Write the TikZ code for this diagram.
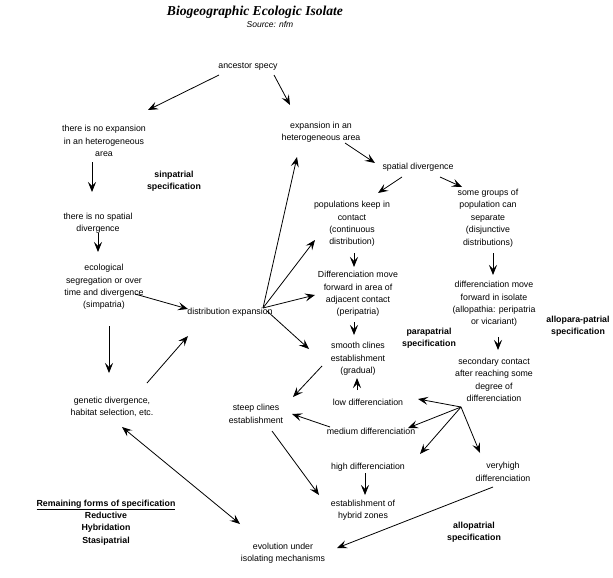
\documentclass[tikz,border=0pt]{standalone}
\usepackage{fontspec}
\setmainfont{Liberation Sans}
\newfontfamily\titlefont{Liberation Serif}
\usetikzlibrary{arrows.meta}
\begin{document}
\begin{tikzpicture}[x=1pt,y=-1pt,
  txt/.style={font=\fontsize{8.8}{12.4}\selectfont, align=center, inner sep=0pt},
  boldtxt/.style={font=\fontsize{8.8}{12.4}\selectfont\bfseries, align=center, inner sep=0pt},
  arr/.style={-{Stealth[length=10pt,width=8pt,inset=4pt]}, line width=0.8pt},
  darr/.style={{Stealth[length=10pt,width=8pt,inset=4pt]}-{Stealth[length=10pt,width=8pt,inset=4pt]}, line width=0.8pt}]
\useasboundingbox (0,0) rectangle (613,578);
% titles
\node[inner sep=0pt, font=\titlefont\bfseries\itshape\fontsize{13.6}{15}\selectfont] (title) at (255,12) {Biogeographic Ecologic Isolate};
\node[inner sep=0pt, font=\itshape\fontsize{8.5}{10}\selectfont] (source) at (270,24) {Source: nfm};
% nodes
\node[txt] (ancestor) at (248,67) {ancestor specy};
\node[txt] (noexp) at (104,141) {there is no expansion\\in an heterogeneous\\area};
\node[boldtxt] (simpatrial) at (174,181) {sinpatrial\\specification};
\node[txt] (nospatial) at (98,223) {there is no spatial\\divergence};
\node[txt] (ecological) at (104,287) {ecological\\segregation or over\\time and divergence\\(simpatria)};
\node[txt] (distexp) at (230,312) {distribution expansion};
\node[txt] (genetic) at (112,407) {genetic divergence,\\habitat selection, etc.};
\node[boldtxt] (remaining) at (106,522.5) {\underline{Remaining forms of specification}\\Reductive\\Hybridation\\Stasipatrial};
\node[txt] (expansionhet) at (321,132) {expansion in an\\heterogeneous area};
\node[txt] (spatial) at (418,167) {spatial divergence};
\node[txt] (popkeep) at (352,224) {populations keep in\\contact\\(continuous\\distribution)};
\node[txt] (somegroups) at (488,218) {some groups of\\population can\\separate\\(disjunctive\\distributions)};
\node[txt] (diffmove) at (358,294) {Differenciation move\\forward in area of\\adjacent contact\\(peripatria)};
\node[txt] (smooth) at (358,359) {smooth clines\\establishment\\(gradual)};
\node[boldtxt] (parapatrial) at (429,338) {parapatrial\\specification};
\node[txt] (diffisolate) at (494,304) {differenciation move\\forward in isolate\\(allopathia: peripatria\\or vicariant)};
\node[boldtxt] (allopara) at (578,326) {allopara-patrial\\specification};
\node[txt] (secondary) at (494,380) {secondary contact\\after reaching some\\degree of\\differenciation};
\node[txt] (low) at (368,402) {low differenciation};
\node[txt] (steep) at (256,414) {steep clines\\establishment};
\node[txt] (medium) at (371,431) {medium differenciation};
\node[txt] (high) at (368,467) {high differenciation};
\node[txt] (veryhigh) at (503,472) {veryhigh\\differenciation};
\node[txt] (hybrid) at (363,510) {establishment of\\hybrid zones};
\node[boldtxt] (allopatrial) at (474,532) {allopatrial\\specification};
\node[txt] (evolution) at (283,553) {evolution under\\isolating mechanisms};
% connectors
\draw[arr] ([shift={(-29,8)}]ancestor.center) -- ([shift={(44,-31)}]noexp.center);
\draw[arr] ([shift={(26,8)}]ancestor.center) -- ([shift={(-31,-27)}]expansionhet.center);
\draw[arr] ([shift={(-12,21)}]noexp.center) -- ([shift={(-6,-31)}]nospatial.center);
\draw[arr] ([shift={(0,10)}]nospatial.center) -- ([shift={(-6,-35)}]ecological.center);
\draw[arr] ([shift={(31,7)}]ecological.center) -- ([shift={(-42,-3)}]distexp.center);
\draw[arr] ([shift={(5,39)}]ecological.center) -- ([shift={(-3,-34)}]genetic.center);
\draw[arr] ([shift={(35,-24)}]genetic.center) -- ([shift={(-42,24)}]distexp.center);
\draw[arr] ([shift={(33,-4)}]distexp.center) -- ([shift={(-24,25)}]expansionhet.center);
\draw[arr] ([shift={(33,-4)}]distexp.center) -- ([shift={(-37,16)}]popkeep.center);
\draw[arr] ([shift={(33,-4)}]distexp.center) -- ([shift={(-43,1)}]diffmove.center);
\draw[arr] ([shift={(37,-1)}]distexp.center) -- ([shift={(-49,-10)}]smooth.center);
\draw[arr] ([shift={(24,11)}]expansionhet.center) -- ([shift={(-43,-4)}]spatial.center);
\draw[arr] ([shift={(-16,10)}]spatial.center) -- ([shift={(26,-31)}]popkeep.center);
\draw[arr] ([shift={(22,10)}]spatial.center) -- ([shift={(-26,-31)}]somegroups.center);
\draw[arr] ([shift={(2,29)}]popkeep.center) -- ([shift={(-4,-27)}]diffmove.center);
\draw[arr] ([shift={(5,35)}]somegroups.center) -- ([shift={(-1,-29)}]diffisolate.center);
\draw[arr] ([shift={(-4,28)}]diffmove.center) -- ([shift={(-4,-24)}]smooth.center);
\draw[arr] ([shift={(4,33)}]diffisolate.center) -- ([shift={(4,-30)}]secondary.center);
\draw[arr] ([shift={(-11,-12)}]low.center) -- ([shift={(-1,19)}]smooth.center);
\draw[arr] ([shift={(-36,7)}]smooth.center) -- ([shift={(37,-17)}]steep.center);
\draw[arr] ([shift={(-41,-4)}]medium.center) -- ([shift={(36,0)}]steep.center);
\draw[arr] ([shift={(-33,27)}]secondary.center) -- ([shift={(50,-3)}]low.center);
\draw[arr] ([shift={(-33,27)}]secondary.center) -- ([shift={(37,-3)}]medium.center);
\draw[arr] ([shift={(-33,27)}]secondary.center) -- ([shift={(52,-13)}]high.center);
\draw[arr] ([shift={(-33,27)}]secondary.center) -- ([shift={(-23,-19)}]veryhigh.center);
\draw[arr] ([shift={(16,17)}]steep.center) -- ([shift={(-44,-15)}]hybrid.center);
\draw[arr] ([shift={(-3,6)}]high.center) -- ([shift={(2,-15)}]hybrid.center);
\draw[arr] ([shift={(-10,15)}]veryhigh.center) -- ([shift={(54,-5)}]evolution.center);
\draw[darr] ([shift={(10,20)}]genetic.center) -- ([shift={(-43,-29)}]evolution.center);
\end{tikzpicture}
\end{document}
